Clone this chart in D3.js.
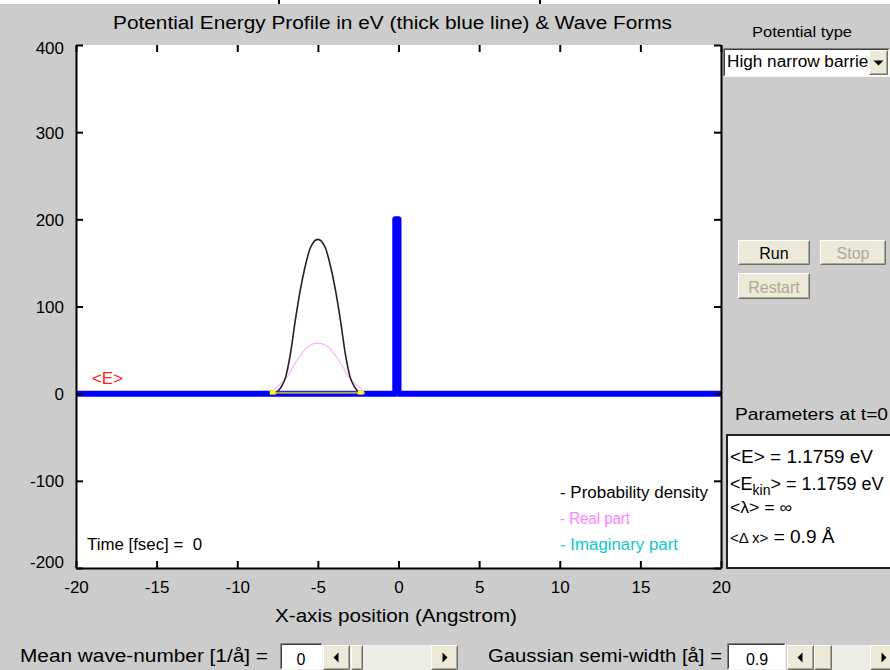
<!DOCTYPE html>
<html>
<head>
<meta charset="utf-8">
<script src="https://cdn.jsdelivr.net/npm/d3@7"></script>
<style>
  body { margin: 0; background: #cccccc; }
  svg { display: block; font-family: "Liberation Sans", Arial, sans-serif; }
</style>
</head>
<body>
<svg id="fig" width="890" height="670"></svg>
<script>
// axis ticks
const xTicks = [-20, -15, -10, -5, 0, 5, 10, 15, 20];
const yTicks = [-200, -100, 0, 100, 200, 300, 400];

// potential profile in eV: high narrow barrier just left of x = 0
const potX = [-20, -0.2, -0.2, 0, 0, 20];
const potV = [0, 0, 200, 200, 0, 0];

// probability density at t = 0
const densX = [-7.6, -7.3, -7.0, -6.7, -6.4, -6.1, -5.8, -5.45, -5.0, -4.55, -4.2, -3.9, -3.6, -3.3, -3.0, -2.7, -2.4];
const densV = [1, 7, 19, 46, 84, 118, 145, 168, 177, 168, 145, 118, 84, 46, 19, 7, 1];

// real part of the wave function (pink curve)
const realX = [-7.9, -7.75, -7.34, -6.9, -6.51, -6.1, -5.68, -5.0, -4.32, -3.9, -3.49, -3.1, -2.66, -2.25, -2.1];
const realV = [0, 4, 11, 19, 32, 43.5, 53, 58, 53, 43.5, 32, 19, 11, 4, 0];

// mean energy marker across the packet
const eMarkX = [-7.8, -2.35];
const eMean = 1.1759;

const legendLabels = ["- Probability density", "- Real part", "- Imaginary part"];
const legendColors = ["#000000", "#ff80ff", "#10c8c8"];
const legendWidths = [148, 70, 118];

const W = 890, H = 670;
const plot = { left: 76, right: 721, top: 45, bottom: 568 };

const svg = d3.select("#fig");

svg.append("rect").attr("width", W).attr("height", H).attr("fill", "#cccccc");
// thin white strip left over at the very top of the window
svg.append("rect").attr("width", W).attr("height", 4).attr("fill", "#ffffff");
svg.append("path").attr("d", "M279,0V4M540,0V4").attr("stroke", "#000").attr("stroke-width", 2);

const x = d3.scaleLinear().domain([-20, 20]).range([plot.left, plot.right]);
const y = d3.scaleLinear().domain([-200, 400]).range([plot.bottom, plot.top]);

svg.append("rect")
  .attr("x", plot.left).attr("y", plot.top)
  .attr("width", plot.right - plot.left).attr("height", plot.bottom - plot.top)
  .attr("fill", "#ffffff");

svg.append("clipPath").attr("id", "clip")
  .append("rect")
  .attr("x", plot.left).attr("y", plot.top)
  .attr("width", plot.right - plot.left).attr("height", plot.bottom - plot.top);

const plotArea = svg.append("g").attr("clip-path", "url(#clip)");

const line = d3.line().x(d => x(d[0])).y(d => y(d[1]));
const smooth = d3.line().curve(d3.curveMonotoneX).x(d => x(d[0])).y(d => y(d[1]));

// thick blue potential
plotArea.append("path")
  .datum(potX.map((v, i) => [v, potV[i]]))
  .attr("d", line)
  .attr("fill", "none")
  .attr("stroke", "#0000ff")
  .attr("stroke-width", 6)
  .attr("stroke-linejoin", "round");

// real part
plotArea.append("path")
  .datum(realX.map((v, i) => [v, realV[i]]))
  .attr("d", smooth)
  .attr("fill", "none")
  .attr("stroke", "#ffb0ff")
  .attr("stroke-width", 1.2);

// probability density
plotArea.append("path")
  .datum(densX.map((v, i) => [v, densV[i]]))
  .attr("d", smooth)
  .attr("fill", "none")
  .attr("stroke", "#222222")
  .attr("stroke-width", 1.6);

// <E> marker under the packet
plotArea.append("path")
  .datum(eMarkX.map(v => [v, eMean]))
  .attr("d", line)
  .attr("fill", "none")
  .attr("stroke", "#b8a840")
  .attr("stroke-width", 2);
plotArea.selectAll("rect.emark")
  .data(eMarkX)
  .join("rect")
  .attr("class", "emark")
  .attr("x", d => x(d) - 3).attr("y", y(eMean) - 2)
  .attr("width", 6).attr("height", 4)
  .attr("fill", "#ffff00");

// axes
const fmt = d => String(d);
function styleAxis(g) {
  g.attr("font-size", 17).attr("font-family", null);
  g.selectAll("line").attr("stroke", "#000").attr("stroke-width", 2);
  g.selectAll(".domain").attr("stroke", "#000").attr("stroke-width", 2);
  g.selectAll("text").attr("fill", "#000");
}

svg.append("g")
  .attr("transform", `translate(0,${plot.bottom})`)
  .call(d3.axisBottom(x).tickValues(xTicks).tickSize(-7).tickSizeOuter(0).tickPadding(13).tickFormat(fmt))
  .call(styleAxis);

svg.append("g")
  .attr("transform", `translate(0,${plot.top})`)
  .call(d3.axisTop(x).tickValues(xTicks).tickSize(-7).tickSizeOuter(0).tickFormat(""))
  .call(styleAxis)
  .call(g => g.select(".domain").remove());

const yAxisG = svg.append("g")
  .attr("transform", `translate(${plot.left},0)`)
  .call(d3.axisLeft(y).tickValues(yTicks).tickSize(-7).tickSizeOuter(0).tickPadding(12).tickFormat(fmt))
  .call(styleAxis);
// matlab nudges the end labels inside the axes
yAxisG.selectAll(".tick text")
  .attr("dy", d => d === 400 ? "0.5em" : d === -200 ? "-0.05em" : "0.36em");

svg.append("g")
  .attr("transform", `translate(${plot.right},0)`)
  .call(d3.axisRight(y).tickValues(yTicks).tickSize(-7).tickSizeOuter(0).tickFormat(""))
  .call(styleAxis);

// texts are stretched to the widths of the original (wider) system font
function label(g, x0, y0, size, txt, width) {
  const t = g.append("text").attr("x", x0).attr("y", y0).attr("font-size", size).text(txt);
  if (width) t.attr("textLength", width).attr("lengthAdjust", "spacingAndGlyphs");
  return t;
}

label(svg, 113, 28.5, 18, "Potential Energy Profile in eV (thick blue line) & Wave Forms", 559);
label(svg, 275, 622, 18, "X-axis position (Angstrom)", 242);
label(svg, 92, 383.5, 16, "<E>", 31).attr("fill", "#ff2020");
label(svg, 87, 550, 16, "Time [fsec] =  0", 115).attr("xml:space", "preserve");

svg.append("g")
  .selectAll("text")
  .data(legendLabels)
  .join("text")
  .attr("x", 560)
  .attr("y", (d, i) => 498 + i * 26)
  .attr("font-size", 16)
  .attr("fill", (d, i) => legendColors[i])
  .attr("textLength", (d, i) => legendWidths[i])
  .attr("lengthAdjust", "spacingAndGlyphs")
  .text(d => d);

// ---- widgets ----
function bevel(g, x0, y0, w, h, face, raised) {
  g.append("rect").attr("x", x0).attr("y", y0).attr("width", w).attr("height", h).attr("fill", face);
  const lt = raised ? "#ffffff" : "#808080";
  const rb = raised ? "#716f64" : "#f4f3ee";
  g.append("path")
    .attr("d", `M${x0 + 0.5},${y0 + h - 0.5}V${y0 + 0.5}H${x0 + w - 0.5}`)
    .attr("fill", "none").attr("stroke", lt);
  g.append("path")
    .attr("d", `M${x0 + 0.5},${y0 + h - 0.5}H${x0 + w - 0.5}V${y0 + 0.5}`)
    .attr("fill", "none").attr("stroke", rb);
  if (raised) {
    g.append("path")
      .attr("d", `M${x0 + 1.5},${y0 + h - 1.5}H${x0 + w - 1.5}V${y0 + 1.5}`)
      .attr("fill", "none").attr("stroke", "#aca899");
  } else {
    g.append("path")
      .attr("d", `M${x0 + 1.5},${y0 + h - 1.5}V${y0 + 1.5}H${x0 + w - 1.5}`)
      .attr("fill", "none").attr("stroke", "#404040");
  }
}

function arrowButton(g, x0, y0, w, h, dir) {
  bevel(g, x0, y0, w, h, "#ece9d8", true);
  const cx = x0 + w / 2, cy = y0 + h / 2;
  let d;
  if (dir === "left") d = `M${cx - 3},${cy}L${cx + 2},${cy - 5}V${cy + 5}Z`;
  else if (dir === "right") d = `M${cx + 3},${cy}L${cx - 2},${cy - 5}V${cy + 5}Z`;
  else d = `M${cx},${cy + 3}L${cx - 5},${cy - 2}H${cx + 5}Z`;
  g.append("path").attr("d", d).attr("fill", "#000");
}

function scrollbar(g, x0, y0, w, h, thumbX, thumbW) {
  g.append("rect").attr("x", x0).attr("y", y0).attr("width", w).attr("height", h).attr("fill", "#eeede5");
  arrowButton(g, x0, y0, 27, h, "left");
  arrowButton(g, x0 + w - 27, y0, 27, h, "right");
  bevel(g, thumbX, y0, thumbW, h, "#ece9d8", true);
}

const ui = svg.append("g");

// right-hand panel
label(ui, 752, 36.5, 15, "Potential type", 100);

bevel(ui, 723, 48, 167, 29, "#ffffff", false);
ui.append("clipPath").attr("id", "dropclip")
  .append("rect").attr("x", 725).attr("y", 50).attr("width", 143).attr("height", 25);
label(ui, 727, 67, 16, "High narrow barrier", 147).attr("clip-path", "url(#dropclip)");
arrowButton(ui, 869, 50, 19, 25, "down");

bevel(ui, 738, 240, 72, 25, "#ece9d8", true);
bevel(ui, 820, 240, 66, 25, "#ece9d8", true);
bevel(ui, 738, 273, 72, 26, "#ece9d8", true);
ui.append("text").attr("x", 774).attr("y", 259).attr("text-anchor", "middle").attr("font-size", 16).text("Run");
ui.append("text").attr("x", 853).attr("y", 259).attr("text-anchor", "middle").attr("font-size", 16).attr("fill", "#aca899").text("Stop");
ui.append("text").attr("x", 774).attr("y", 293).attr("text-anchor", "middle").attr("font-size", 16).attr("fill", "#aca899").text("Restart");

label(ui, 735, 420, 17, "Parameters at t=0", 153);

ui.append("rect")
  .attr("x", 727).attr("y", 435).attr("width", 170).attr("height", 133)
  .attr("fill", "#ffffff")
  .attr("stroke", "#202020").attr("stroke-width", 2);

label(ui, 730, 463, 18, "<E> = 1.1759 eV", 143);

const p2 = ui.append("text").attr("x", 730).attr("y", 490).attr("font-size", 18);
p2.append("tspan").text("<E");
p2.append("tspan").attr("font-size", 14).attr("dy", 5).text("kin");
p2.append("tspan").attr("dy", -5).text("> = 1.1759 eV");

label(ui, 730, 513, 16, "<λ> = ∞", 62);

const p4 = ui.append("text").attr("x", 730).attr("y", 543);
p4.append("tspan").attr("font-size", 15).text("<Δ x>");
p4.append("tspan").attr("font-size", 19).text(" = 0.9 Å");

// bottom controls
label(ui, 20, 662, 18, "Mean wave-number [1/å] =", 248);
bevel(ui, 280, 643, 43, 27, "#ffffff", false);
ui.append("text").attr("x", 301).attr("y", 665).attr("text-anchor", "middle").attr("font-size", 16).text("0");
scrollbar(ui, 323, 645, 135, 25, 351, 12);

label(ui, 488, 662, 18, "Gaussian semi-width [å] =", 234);
bevel(ui, 727, 643, 59, 27, "#ffffff", false);
ui.append("text").attr("x", 757).attr("y", 665).attr("text-anchor", "middle").attr("font-size", 16).text("0.9");
scrollbar(ui, 787, 645, 110, 25, 814, 18);
</script>
</body>
</html>
